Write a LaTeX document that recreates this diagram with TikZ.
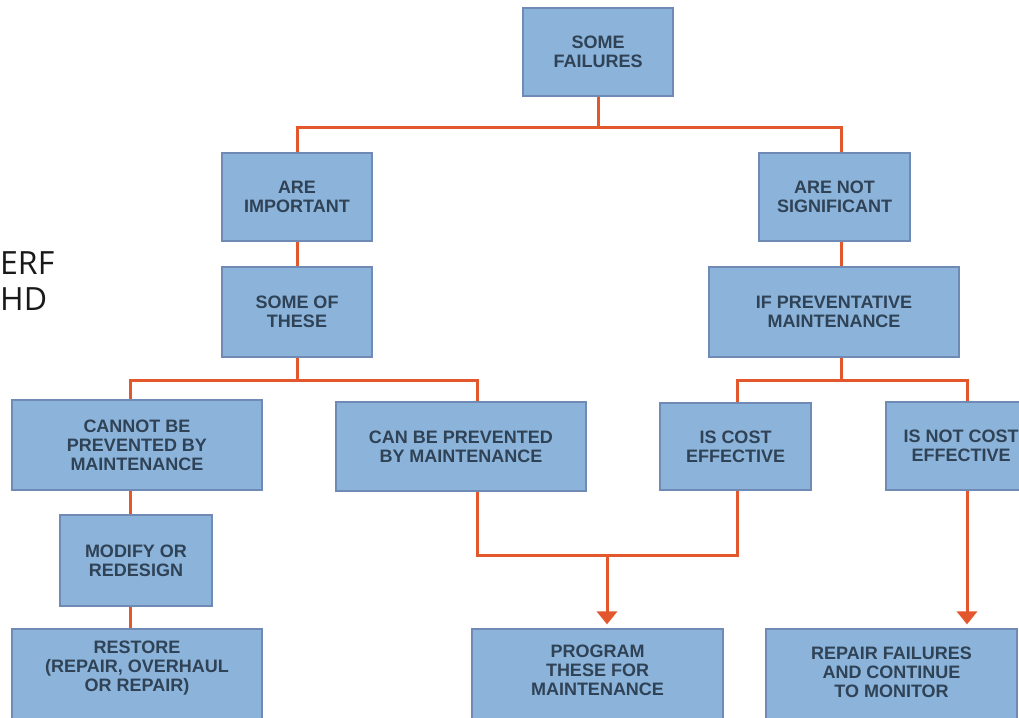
\documentclass[tikz,border=0pt]{standalone}
\usepackage{fontspec}
\setmainfont{Liberation Sans}
\newfontfamily\strayfont{Open Sans}
\usetikzlibrary{arrows.meta}
\definecolor{boxfill}{HTML}{8CB4DA}
\definecolor{boxline}{HTML}{6F8AB5}
\definecolor{txtcol}{HTML}{2F4256}
\definecolor{linkcol}{HTML}{E2572B}
\begin{document}
\begin{tikzpicture}[x=1pt,y=-1pt,
  box/.style={draw=boxline,line width=1.2pt,fill=boxfill,inner sep=0pt,align=center,
    text=txtcol,font=\bfseries\fontsize{18}{19}\selectfont},
  lbl/.style={inner sep=0pt,align=center,text=txtcol,font=\bfseries\fontsize{18}{19}\selectfont},
  stray/.style={inner sep=0pt,anchor=base west,text=black!90,font=\strayfont\fontsize{32}{32}\selectfont},
  link/.style={draw=linkcol,line width=3pt},
  arr/.style={link,-{Triangle[width=20pt,length=13pt]},shorten >=4pt}]
\useasboundingbox (0,0) rectangle (1019,717);
\clip (0,0) rectangle (1019,717);
\fill[white] (0,0) rectangle (1019,717);

% boxes
\node[box,minimum width=150pt,minimum height=88pt] (sf) at (598,52) {SOME\\FAILURES};
\node[box,minimum width=150pt,minimum height=88pt] (ai) at (297,197) {ARE\\IMPORTANT};
\node[box,minimum width=150pt,minimum height=90pt] (sot) at (297,312) {SOME OF\\THESE};
\node[box,minimum width=151pt,minimum height=88pt] (ans) at (834.5,197) {ARE NOT\\SIGNIFICANT};
\node[box,minimum width=250pt,minimum height=90pt] (ifp) at (834,312) {IF PREVENTATIVE\\MAINTENANCE};
\node[box,minimum width=250pt,minimum height=90pt] (cannot) at (137,445) {CANNOT BE\\PREVENTED BY\\MAINTENANCE};
\node[box,minimum width=250pt,minimum height=89pt] (canbe) at (461,446.5) {CAN BE PREVENTED\\BY MAINTENANCE};
\node[box,minimum width=151pt,minimum height=87pt] (iscost) at (735.5,446.5) {IS COST\\EFFECTIVE};
\node[box,minimum width=150pt,minimum height=88pt] (isnot) at (961,446) {IS NOT COST\\EFFECTIVE};
\node[box,minimum width=152pt,minimum height=91pt] (modify) at (136,560.5) {MODIFY OR\\REDESIGN};
\node[box,minimum width=250pt,minimum height=120pt] (restore) at (137,689) {};
\node[lbl] (restoret) at (137,668) {RESTORE\\(REPAIR, OVERHAUL\\OR REPAIR)};
\node[box,minimum width=251pt,minimum height=120pt] (program) at (597.5,689) {};
\node[lbl] (programt) at (597.5,670) {PROGRAM\\THESE FOR\\MAINTENANCE};
\node[box,minimum width=251pt,minimum height=120pt] (repair) at (891.5,689) {};
\node[lbl] (repairt) at (891.5,672) {REPAIR FAILURES\\AND CONTINUE\\TO MONITOR};

% stray text at left edge
\node[stray] (s1) at (0,274) {ERF};
\node[stray] (s2) at (0,310) {HD};

% connectors
\coordinate (j1) at (598,127);
\draw[link] (sf.south) -- (j1);
\draw[link] (j1) -| (ai.north);
\draw[link] (j1) -| (ans.north -| 841,0);
\draw[link] (ai.south) -- (sot.north);
\draw[link] (ans.south -| 841,0) -- (ifp.north -| 841,0);
\coordinate (j2) at (297,380);
\draw[link] (sot.south) -- (j2);
\draw[link] (j2) -| (cannot.north -| 130,0);
\draw[link] (j2) -| (canbe.north -| 477,0);
\draw[link] (cannot.south -| 130,0) -- (modify.north -| 130,0);
\draw[link] (modify.south -| 130,0) -- (restore.north -| 130,0);
\coordinate (j3) at (841,380);
\draw[link] (ifp.south -| 841,0) -- (j3);
\draw[link] (j3) -| (iscost.north -| 737,0);
\draw[link] (j3) -| (isnot.north -| 967,0);
\coordinate (j4) at (607,555);
\draw[link] (canbe.south -| 477,0) |- (j4);
\draw[link] (iscost.south -| 737,0) |- (j4);
\draw[arr] (j4) -- (program.north -| 607,0);
\draw[arr] (isnot.south -| 967,0) -- (repair.north -| 967,0);
\end{tikzpicture}
\end{document}
